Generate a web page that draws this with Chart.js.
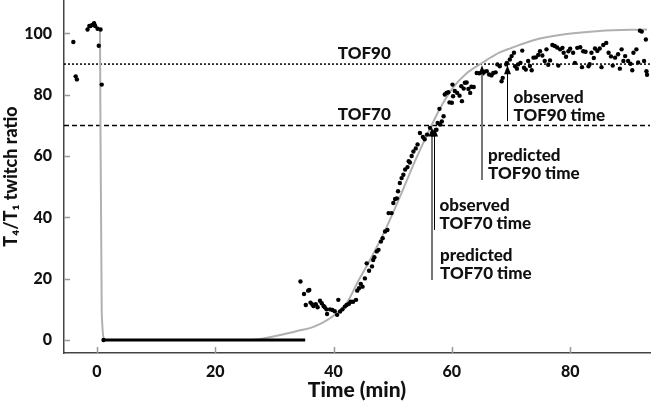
<!DOCTYPE html>
<html>
<head>
<meta charset="utf-8">
<script src="https://cdn.jsdelivr.net/npm/chart.js@4.4.1/dist/chart.umd.min.js"></script>
<style>
  html, body { margin: 0; padding: 0; background: #fff; }
  #wrap { width: 655px; height: 407px; position: relative; }
</style>
</head>
<body>
<div id="wrap"><canvas id="tofChart"></canvas></div>
<script>
// Observed T4/T1 ratios (time in min)
const obsTime = [
  -4.0, -3.6, -3.4, -1.6, -1.3, -1.1, -0.8, -0.5, -0.3, 0.1, 0.3, 0.6, 0.8, 1.1,
  34.4, 35.0, 35.3, 35.7, 35.9, 36.1, 36.4, 36.6, 37.0, 37.3, 37.7, 38.0, 38.3, 38.5,
  38.8, 38.9, 39.4, 39.8, 40.2, 40.6, 40.8, 41.1, 41.5, 41.9, 42.2, 42.6, 42.9, 43.3,
  43.8, 44.0, 44.3, 44.6, 44.9, 45.3, 45.6, 46.0, 46.5, 46.7, 46.9, 47.3, 47.6, 48.0,
  48.3, 48.7, 49.1, 49.3, 49.8, 50.1, 50.4, 50.7, 50.9, 51.2, 51.5, 51.8, 52.1, 52.5,
  52.7, 52.9, 53.2, 53.5, 53.9, 54.2, 54.6, 55.1, 55.4, 55.8, 56.3, 56.9, 57.4, 57.6,
  57.9, 58.0, 58.3, 58.6, 58.8, 59.1, 59.4, 59.6, 60.0, 60.1, 60.2, 60.5, 60.9, 61.3,
  61.6, 61.7, 62.0, 62.2, 62.5, 62.8, 63.1, 63.3, 63.7, 64.2, 64.6, 65.2, 65.5, 65.9,
  66.3, 66.7, 67.0, 67.4, 67.7, 68.1, 68.4, 68.6, 69.2, 69.3, 69.8, 70.1, 70.5, 70.7,
  71.0, 71.2, 71.6, 71.9, 72.2, 72.5, 72.9, 73.2, 73.5, 73.8, 74.2, 74.6, 74.9, 75.3,
  75.7, 76.0, 76.3, 76.6, 77.0, 77.4, 77.8, 78.0, 78.3, 78.7, 78.9, 79.3, 79.7, 80.0,
  80.5, 80.8, 81.2, 81.7, 82.0, 82.2, 82.6, 83.1, 83.3, 83.6, 84.0, 84.2, 84.6, 85.0,
  85.3, 85.6, 86.1, 86.5, 86.9, 87.2, 87.6, 88.1, 88.4, 88.7, 89.0, 89.3, 89.8, 90.2,
  90.5, 90.7, 91.2, 91.5, 91.8, 92.1, 92.5, 92.8, 92.9, 93.0
];
const obsRatio = [
  97.2, 86.0, 85.0, 101.3, 102.4, 102.4, 102.8, 103.3, 102.4, 101.5, 96.0, 101.3, 83.3, 0,
  19.1, 15.0, 11.4, 16.1, 16.3, 12.2, 11.6, 11.1, 11.7, 10.7, 12.8, 12.0, 11.1, 10.7,
  10.0, 8.5, 10.0, 9.8, 9.4, 8.2, 13.1, 9.3, 10.0, 10.9, 11.4, 11.8, 12.5, 12.5,
  13.1, 16.1, 16.9, 18.3, 17.4, 20.1, 25.0, 22.6, 24.0, 26.1, 27.0, 28.9, 29.4, 32.1,
  33.2, 35.4, 35.9, 41.4, 41.4, 44.7, 46.0, 46.2, 48.5, 51.2, 52.8, 53.9, 55.6, 56.4,
  58.3, 57.9, 60.0, 61.5, 62.5, 63.8, 67.5, 66.2, 65.5, 67.0, 69.2, 67.5, 68.6, 70.8,
  75.4, 70.3, 71.3, 73.0, 80.1, 80.6, 80.8, 77.5, 77.4, 83.3, 79.5, 81.2, 80.6, 79.7,
  82.8, 77.9, 82.0, 83.9, 84.0, 81.9, 80.6, 82.6, 82.5, 87.1, 87.0, 86.9, 87.5, 87.7,
  86.6, 86.3, 87.1, 87.3, 89.9, 89.3, 84.4, 85.5, 89.9, 90.4, 91.5, 92.6, 93.7, 89.3,
  88.5, 89.9, 90.4, 94.4, 88.8, 88.2, 91.0, 89.4, 88.0, 92.1, 92.2, 93.0, 94.2, 92.8,
  91.0, 94.8, 89.8, 91.2, 96.2, 95.9, 95.4, 89.5, 94.8, 95.3, 93.7, 92.4, 94.2, 95.0,
  93.7, 90.4, 95.3, 95.5, 89.0, 94.2, 94.0, 89.3, 90.0, 93.7, 92.0, 95.1, 94.3, 95.1,
  89.0, 96.2, 96.9, 93.7, 92.5, 89.5, 92.1, 93.2, 88.5, 94.8, 91.0, 92.6, 91.0, 90.1,
  88.0, 93.7, 94.8, 90.5, 100.9, 100.6, 91.0, 98.0, 87.7, 86.5
];

// Block of zero readings during full block
const zeroBlockTime = [1.1, 35.2];
const zeroBlockRatio = [0, 0];

// Model prediction curve
const fitTime = [0.5, 0.8, 1.35, 26, 29, 31, 34, 36.6, 39.4, 42.2, 44.2, 46, 49, 51.5,
  53.8, 55.7, 58, 60.2, 62.5, 65.3, 68.1, 70, 73.8, 79.4, 85, 93];
const fitRatio = [101.3, 8.8, 0, 0, 0.8, 1.6, 3.0, 4.3, 7.1, 12.0, 19.3, 25.5, 37.0, 48.0,
  58.5, 66.5, 75.5, 82.3, 87.0, 90.6, 93.8, 95.2, 97.8, 99.8, 100.8, 101.3];

// Thresholds and TOF times
const tofLevels = [90, 70];
const tofNames = ['TOF90', 'TOF70'];
const predictedTofTimes = [65.1, 56.6];
const observedTofTimes = [69.4, 57.05];

const xTicks = [0, 20, 40, 60, 80];
const yTicks = [0, 20, 40, 60, 80, 100];

const xMin = -5.58, xMax = 93.5, yMin = -4.24, yMax = 110.9;
const FONT = 'Lato, "Open Sans", sans-serif';
const WEIGHT = '900';
const INK = '#111';

const pairs = (xs, ys) => xs.map((x, i) => ({ x: x, y: ys[i] }));

// arrows with their captions
const notes = [
  { time: predictedTofTimes[1], tip: 69.3, tail: 19.6, color: '#777', width: 2, dx: 8, lines: ['predicted', 'TOF70 time'] },
  { time: observedTofTimes[1], tip: 69.3, tail: 35.9, color: '#000', width: 1, dx: 5, lines: ['observed', 'TOF70 time'] },
  { time: predictedTofTimes[0], tip: 89.6, tail: 52.2, color: '#777', width: 2, dx: 6, lines: ['predicted', 'TOF90 time'] },
  { time: observedTofTimes[0], tip: 89.6, tail: 71.4, color: '#000', width: 1, dx: 6, lines: ['observed', 'TOF90 time'] }
];

const inwardTicks = {
  id: 'inwardTicks',
  beforeDatasetsDraw(chart) {
    const ctx = chart.ctx, a = chart.chartArea;
    const xs = chart.scales.x, ys = chart.scales.y;
    ctx.save();
    ctx.strokeStyle = '#999';
    ctx.lineWidth = 1.5;
    ctx.beginPath();
    xTicks.forEach(v => {
      const px = Math.round(xs.getPixelForValue(v)) + 0.5;
      ctx.moveTo(px, a.bottom);
      ctx.lineTo(px, a.bottom - 6);
    });
    yTicks.forEach(v => {
      const py = Math.round(ys.getPixelForValue(v)) + 0.5;
      ctx.moveTo(a.left, py);
      ctx.lineTo(a.left + 6, py);
    });
    ctx.stroke();
    ctx.restore();
  }
};

const tofNotes = {
  id: 'tofNotes',
  afterDatasetsDraw(chart) {
    const ctx = chart.ctx;
    const xs = chart.scales.x, ys = chart.scales.y;
    ctx.save();
    ctx.font = WEIGHT + ' 17px ' + FONT;
    ctx.fillStyle = INK;
    ctx.textAlign = 'left';
    ctx.textBaseline = 'alphabetic';

    // threshold labels
    tofLevels.forEach((lvl, i) => {
      ctx.fillText(tofNames[i], xs.getPixelForValue(40.7), ys.getPixelForValue(lvl) - 5);
    });

    // arrows
    notes.forEach(n => {
      const px = Math.round(xs.getPixelForValue(n.time)) + (n.width === 1 ? 0.5 : 0);
      const tipY = ys.getPixelForValue(n.tip);
      const tailY = ys.getPixelForValue(n.tail);
      ctx.strokeStyle = n.color;
      ctx.lineWidth = n.width;
      ctx.beginPath();
      ctx.moveTo(px, tailY);
      ctx.lineTo(px, tipY + 6);
      ctx.stroke();
      ctx.fillStyle = '#000';
      ctx.beginPath();
      ctx.moveTo(px, tipY);
      ctx.lineTo(px - 3.5, tipY + 9);
      ctx.lineTo(px + 3.5, tipY + 9);
      ctx.closePath();
      ctx.fill();

      ctx.fillStyle = INK;
      ctx.textBaseline = 'middle';
      const last = n.lines.length - 1;
      n.lines.forEach((txt, i) => {
        ctx.fillText(txt, px + n.dx, tailY - 6 - (last - i) * 18);
      });
      ctx.textBaseline = 'alphabetic';
    });
    ctx.restore();
  }
};

const ctx = document.getElementById('tofChart').getContext('2d');
const tofChart = new Chart(ctx, {
  type: 'scatter',
  data: {
    datasets: [
      {
        label: 'Observed',
        data: pairs(obsTime, obsRatio),
        backgroundColor: '#000',
        borderWidth: 0,
        pointRadius: 2.2,
        order: 0
      },
      {
        type: 'line',
        label: 'Zero readings',
        data: pairs(zeroBlockTime, zeroBlockRatio),
        borderColor: '#000',
        borderWidth: 3,
        pointRadius: 0,
        order: 1
      },
      {
        type: 'line',
        label: 'Predicted',
        data: pairs(fitTime, fitRatio),
        borderColor: '#b0b0b0',
        borderWidth: 2,
        pointRadius: 0,
        cubicInterpolationMode: 'monotone',
        order: 2
      },
      {
        type: 'line',
        label: tofNames[0],
        data: pairs([xMin, xMax], [tofLevels[0], tofLevels[0]]),
        borderColor: '#000',
        borderWidth: 1.5,
        borderDash: [2, 2],
        pointRadius: 0,
        order: 3
      },
      {
        type: 'line',
        label: tofNames[1],
        data: pairs([xMin, xMax], [tofLevels[1], tofLevels[1]]),
        borderColor: '#000',
        borderWidth: 1.5,
        borderDash: [5, 3],
        pointRadius: 0,
        order: 3
      }
    ]
  },
  options: {
    responsive: true,
    maintainAspectRatio: false,
    devicePixelRatio: 1,
    animation: false,
    layout: { padding: { top: 0, right: 5, left: 0, bottom: 0 }, autoPadding: false },
    plugins: {
      legend: { display: false },
      tooltip: { enabled: false }
    },
    scales: {
      x: {
        type: 'linear',
        min: xMin,
        max: xMax,
        afterBuildTicks: s => { s.ticks = xTicks.map(v => ({ value: v })); },
        afterFit: s => { s.height = 54; s.paddingLeft = 0; s.paddingRight = 0; },
        grid: { drawOnChartArea: false, drawTicks: false },
        border: { color: '#444', width: 1.5 },
        ticks: { color: INK, padding: 9, font: { family: FONT, size: 16, weight: WEIGHT } },
        title: {
          display: true,
          text: 'Time (min)',
          color: INK,
          padding: { top: 0, bottom: 4 },
          font: { family: FONT, size: 21, weight: WEIGHT }
        }
      },
      y: {
        type: 'linear',
        min: yMin,
        max: yMax,
        afterBuildTicks: s => { s.ticks = yTicks.map(v => ({ value: v })); },
        afterFit: s => { s.width = 64; s.paddingTop = 0; s.paddingBottom = 0; },
        grid: { drawOnChartArea: false, drawTicks: false },
        border: { color: '#444', width: 1.5 },
        ticks: { color: INK, padding: 12, font: { family: FONT, size: 16, weight: WEIGHT } },
        title: {
          display: true,
          text: 'T\u2084/T\u2081 twitch ratio',
          color: INK,
          padding: 0,
          font: { family: FONT, size: 18, weight: WEIGHT }
        }
      }
    }
  },
  plugins: [inwardTicks, tofNotes]
});
</script>
</body>
</html>
